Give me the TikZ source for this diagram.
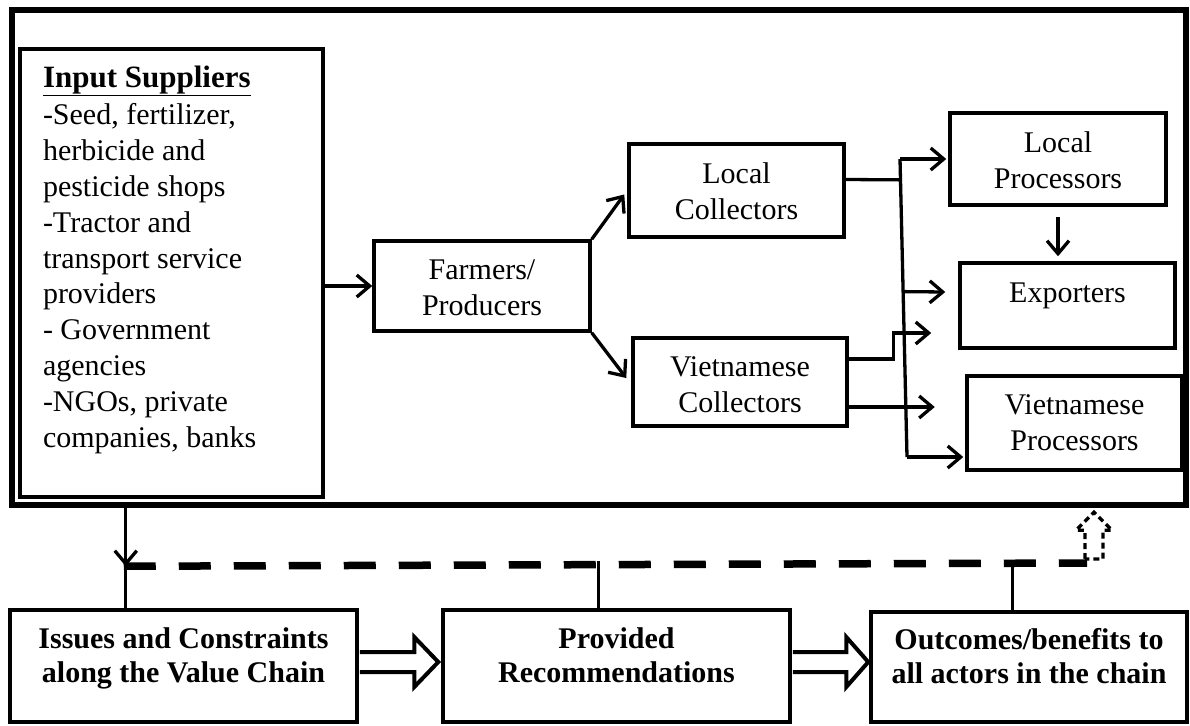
\documentclass[tikz,border=0pt]{standalone}
\usepackage{fontspec}
\setmainfont{Liberation Serif}
\usetikzlibrary{arrows.meta,calc}
\newcommand\boxtxt[4]{\parbox[c][#2][t]{#1}{\centering\vspace*{#3}#4\par}}
\tikzset{
  bx/.style={draw, line width=3.5pt, inner sep=0pt, font=\fontsize{30}{35.8}\selectfont},
  bbx/.style={draw, line width=3.5pt, inner sep=0pt, font=\bfseries\fontsize{30}{34}\selectfont},
  con/.style={line width=3.3pt},
  arr/.style={con, -{Straight Barb[length=13pt,width=22pt]}},
  hollow/.style={line width=4pt, miter limit=10},
  dline/.style={line width=7.5pt, dash pattern=on 32pt off 23pt},
  dhollow/.style={line width=3.3pt, dash pattern=on 6pt off 4pt},
}
\begin{document}
\begin{tikzpicture}[x=1pt,y=-1pt]
\useasboundingbox (0,0) rectangle (1190,725);
\node[draw, line width=6.5pt, inner sep=0pt, minimum width=1174pt, minimum height=495pt] (frame) at (599,257.5) {};
\node[bx] (inp) at (171.5,273) {\parbox[c][448pt][t]{303pt}{\raggedright\leftskip=23pt\vspace*{16.5pt}{\fontsize{31}{35.8}\selectfont\underline{\textbf{Input Suppliers}}}\\[2pt]-Seed, fertilizer,\\herbicide and\\pesticide shops\\-Tractor and\\transport service\\providers\\- Government\\agencies\\-NGOs, private\\companies, banks\par}};
\node[bx] (fa) at (482,286) {\boxtxt{216pt}{90pt}{19pt}{Farmers/\\Producers}};
\node[bx] (lc) at (736.5,190.5) {\boxtxt{215pt}{93pt}{19pt}{Local\\Collectors}};
\node[bx] (vc) at (740,382) {\boxtxt{214pt}{88pt}{19pt}{Vietnamese\\Collectors}};
\node[bx] (lp) at (1058,159) {\boxtxt{216pt}{92pt}{19pt}{Local\\Processors}};
\node[bx] (ex) at (1067.5,305.5) {\boxtxt{215pt}{85pt}{20pt}{Exporters}};
\node[bx] (vp) at (1074.5,423) {\boxtxt{215pt}{94pt}{19pt}{Vietnamese\\Processors}};
\node[bbx] (iss) at (183.5,666) {\boxtxt{347pt}{112pt}{18pt}{Issues and Constraints\\along the Value Chain}};
\node[bbx] (rec) at (616.5,666) {\boxtxt{347pt}{112pt}{18pt}{Provided\\Recommendations}};
\node[bbx] (out) at (1029,667) {\boxtxt{316pt}{110pt}{16pt}{Outcomes/benefits to\\all actors in the chain}};
% top connectors
\draw[arr] (inp.east |- fa.west) -- (fa.west);
\draw[arr] (fa.north east) -- ($(lc.west)+(-3,4)$);
\draw[arr] (fa.south east) -- ($(vc.west)+(-5,-4)$);
\coordinate (bt) at (900,159);
\coordinate (bb) at (907,457);
\draw[con] ($(lc.east)+(0,-11)$) -- ($(bt)!0.07!(bb)$);
\draw[con] (bt) -- (bb);
\draw[arr] (bt) -- ($(lp.west)+(-2,0)$);
\draw[arr] ($(bt)!0.445!(bb)$) -- ($(ex.west)+(-13,-13.5)$);
\draw[arr] (bb) -- ($(vp.west |- bb)+(-2,0)$);
\coordinate (vcup) at ($(ex.west)+(-27,27.5)$);
\draw[arr] ($(vc.east)+(0,-23)$) -| ($(vc.east)+(45,-49)$) -- (vcup);
\coordinate (vcmid) at ($(vc.east)+(86,25)$);
\draw[arr] ($(vc.east)+(0,25)$) -- (vcmid);
\draw[arr, shorten <=10pt] (lp.south) -- ($(lp.south |- ex.north)+(0,-5)$);
% bottom connectors
\coordinate (fb) at ($(frame.south west)+(117,0)$);
\coordinate (dl) at ($(fb)+(0,58)$);
\coordinate (dr) at (1087,563);
\draw[dline] ($(dl)+(-2,0)$) -- (dr);
\draw[arr] (fb) -- (dl);
\draw[con] (dl) -- (dl |- iss.north);
\draw[con] ($(rec.north west)+(157,0)$) -- ++(0,-47);
\draw[con] ($(out.north west)+(143,0)$) -- ++(0,-49);
\coordinate (hb) at (1094,559);
\coordinate (ht) at ($(hb |- frame.south)+(0,4)$);
\draw[dhollow] let \p1=(hb), \p2=(ht) in
  (\x1-9pt,\y1) -- (\x1-9pt,\y2-18pt) -- (\x1-18pt,\y2-18pt) -- (\x2,\y2)
  -- (\x1+18pt,\y2-18pt) -- (\x1+9pt,\y2-18pt) -- (\x1+9pt,\y1) -- cycle;
\draw[hollow] let \p1=($(iss.east)+(1,-4)$), \p2=($(rec.west)+(-3,-4)$) in
  (\x1,\y1+10pt) -- (\x2-24pt,\y1+10pt) -- (\x2-24pt,\y1+25pt) -- (\x2,\y2)
  -- (\x2-24pt,\y1-25pt) -- (\x2-24pt,\y1-10pt) -- (\x1,\y1-10pt);
\draw[hollow] let \p1=($(rec.east)+(1,-4)$), \p2=($(out.west)+(-1,-5)$) in
  (\x1,\y1+10pt) -- (\x2-22pt,\y1+10pt) -- (\x2-22pt,\y1+25pt) -- (\x2,\y2)
  -- (\x2-22pt,\y1-25pt) -- (\x2-22pt,\y1-10pt) -- (\x1,\y1-10pt);
\end{tikzpicture}
\end{document}
